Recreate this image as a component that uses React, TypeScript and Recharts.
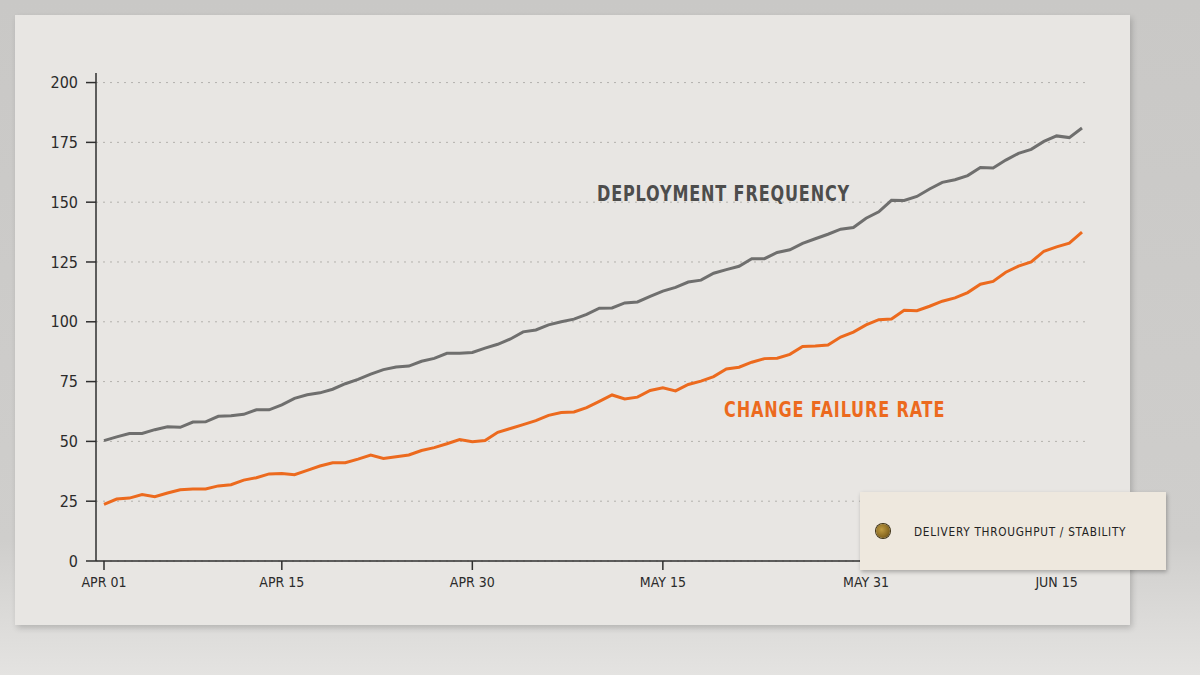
import { LineChart, Line, XAxis, YAxis, CartesianGrid } from 'recharts'

const MONTHS = ['JAN', 'FEB', 'MAR', 'APR', 'MAY', 'JUN', 'JUL']

// one point per day, Apr 01 .. Jun 17
function dayLabels(count: number) {
  const out: string[] = []
  for (let i = 0; i < count; i++) {
    const d = new Date(2024, 3, 1 + i)
    out.push(`${MONTHS[d.getMonth()]} ${String(d.getDate()).padStart(2, '0')}`)
  }
  return out
}

const deploymentFrequency = [
  50.3, 51.9, 53.3, 53.3, 54.9, 56.1, 55.9, 58.1, 58.2, 60.5,
  60.7, 61.3, 63.2, 63.2, 65.3, 68.0, 69.5, 70.3, 71.8, 74.1,
  75.9, 78.1, 80.0, 81.1, 81.5, 83.5, 84.7, 86.8, 86.8, 87.2,
  89.0, 90.6, 92.8, 95.8, 96.6, 98.7, 100.0, 101.1, 103.1, 105.7,
  105.8, 107.9, 108.3, 110.6, 112.8, 114.4, 116.6, 117.4, 120.3, 121.8,
  123.2, 126.4, 126.4, 129.0, 130.1, 132.8, 134.7, 136.6, 138.7, 139.4,
  143.3, 146.0, 150.8, 150.7, 152.4, 155.5, 158.3, 159.4, 161.1, 164.5,
  164.3, 167.6, 170.4, 172.1, 175.4, 177.7, 177.0, 181.0,
]

const changeFailureRate = [
  23.7, 25.9, 26.3, 27.8, 26.9, 28.4, 29.8, 30.1, 30.1, 31.4,
  31.9, 33.8, 34.8, 36.4, 36.6, 36.1, 37.9, 39.7, 41.1, 41.1,
  42.6, 44.3, 42.9, 43.6, 44.3, 46.2, 47.4, 49.0, 50.8, 49.9,
  50.4, 53.8, 55.4, 57.0, 58.7, 60.9, 62.1, 62.3, 64.1, 66.7,
  69.4, 67.7, 68.5, 71.3, 72.4, 71.1, 73.8, 75.2, 77.1, 80.3,
  81.0, 83.1, 84.6, 84.8, 86.4, 89.7, 89.9, 90.3, 93.6, 95.7,
  98.7, 100.9, 101.2, 104.8, 104.6, 106.5, 108.6, 110.0, 112.2, 115.7,
  116.9, 120.7, 123.3, 125.0, 129.5, 131.3, 132.9, 137.5,
]

const dates = dayLabels(deploymentFrequency.length)
const xTicks = ['APR 01', 'APR 15', 'APR 30', 'MAY 15', 'MAY 31', 'JUN 15']
const yTicks = [0, 25, 50, 75, 100, 125, 150, 175, 200]

const data = dates.map((date, i) => ({
  date,
  deploy: deploymentFrequency[i],
  cfr: changeFailureRate[i],
}))

const FONT = '"DejaVu Sans Condensed", "DejaVu Sans", sans-serif'
const GRAY = '#6f6f6e'
const ORANGE = '#ec6a1e'

const labelStyle = {
  position: 'absolute' as const,
  fontSize: 21,
  lineHeight: 1,
  fontWeight: 700,
  letterSpacing: 1,
  whiteSpace: 'nowrap' as const,
  transform: 'scaleX(0.85)',
  transformOrigin: 'left center',
}

export default function App() {
  return (
    <div
      style={{
        position: 'fixed',
        left: 0,
        top: 0,
        width: 1200,
        height: 675,
        overflow: 'hidden',
        background: 'linear-gradient(#c9c8c6 0%, #cfcecc 80%, #dddcda 93%, #e4e3e1 100%)',
        fontFamily: FONT,
      }}
    >
      <div
        style={{
          position: 'absolute',
          left: 15,
          top: 15,
          width: 1115,
          height: 610,
          background: '#e8e6e3',
          boxShadow: '2px 3px 6px rgba(0,0,0,0.18)',
        }}
      />
      <div style={{ position: 'absolute', left: 0, top: 0 }}>
        <LineChart
          width={1200}
          height={675}
          data={data}
          margin={{ top: 73, right: 110, bottom: 84, left: 40 }}
        >
          <CartesianGrid
            vertical={false}
            horizontalValues={yTicks}
            stroke="#b3b1ad"
            strokeDasharray="2 5"
          />
          <XAxis
            dataKey="date"
            ticks={xTicks}
            interval={0}
            height={30}
            padding={{ left: 8, right: 8 }}
            axisLine={{ stroke: '#2f2f2f', strokeWidth: 1.5 }}
            tickLine={{ stroke: '#2f2f2f', strokeWidth: 1.5 }}
            tickSize={9}
            tickMargin={7}
            tick={{ fontSize: 14, fill: '#2b2b2b', fontFamily: FONT }}
          />
          <YAxis
            domain={[0, 204]}
            ticks={yTicks}
            width={56}
            axisLine={{ stroke: '#2f2f2f', strokeWidth: 1.5 }}
            tickLine={{ stroke: '#2f2f2f', strokeWidth: 1.5 }}
            tickSize={10}
            tickMargin={8}
            tick={{ fontSize: 16, fill: '#2b2b2b', fontFamily: FONT }}
          />
          <Line
            type="linear"
            dataKey="deploy"
            stroke={GRAY}
            strokeWidth={3}
            dot={false}
            isAnimationActive={false}
          />
          <Line
            type="linear"
            dataKey="cfr"
            stroke={ORANGE}
            strokeWidth={3}
            dot={false}
            isAnimationActive={false}
          />
        </LineChart>
      </div>

      <div style={{ ...labelStyle, left: 597, top: 184, color: '#4d4d4c' }}>
        DEPLOYMENT FREQUENCY
      </div>
      <div style={{ ...labelStyle, left: 724, top: 400, color: ORANGE }}>
        CHANGE FAILURE RATE
      </div>

      <div
        style={{
          position: 'absolute',
          left: 860,
          top: 492,
          width: 306,
          height: 78,
          background: '#eee8de',
          boxShadow: '1px 2px 4px rgba(0,0,0,0.28)',
          display: 'flex',
          alignItems: 'center',
        }}
      >
        <div
          style={{
            marginLeft: 16,
            width: 14,
            height: 14,
            flexShrink: 0,
            borderRadius: '50%',
            background: 'radial-gradient(circle at 40% 40%, #c09c42 0%, #8a6a22 60%, #4a3a14 100%)',
            boxShadow: '0 0 0 1px #3b2f12',
          }}
        />
        <div
          style={{
            marginLeft: 24,
            fontSize: 13,
            letterSpacing: 0.8,
            color: '#222',
            whiteSpace: 'nowrap',
            transform: 'scaleX(0.9)',
            transformOrigin: 'left center',
          }}
        >
          DELIVERY THROUGHPUT / STABILITY
        </div>
      </div>
    </div>
  )
}
